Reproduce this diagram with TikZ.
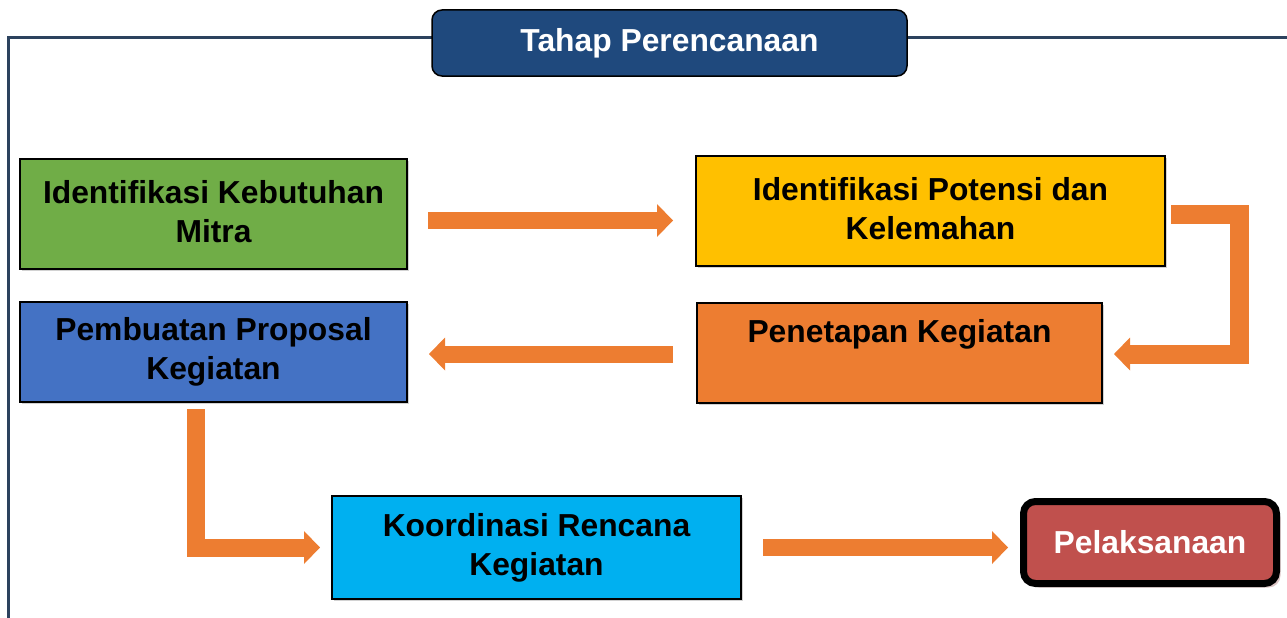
\documentclass[tikz,border=0pt]{standalone}
\usepackage{fontspec}
\setmainfont{Liberation Sans}
\usetikzlibrary{arrows.meta,shadows}
\definecolor{frameblue}{RGB}{44,66,94}
\definecolor{titleblue}{RGB}{31,73,125}
\definecolor{cgreen}{RGB}{112,173,71}
\definecolor{cyellow}{RGB}{255,192,0}
\definecolor{cblue}{RGB}{68,114,196}
\definecolor{corange}{RGB}{237,125,49}
\definecolor{ccyan}{RGB}{0,176,240}
\definecolor{cred}{RGB}{192,80,77}
\definecolor{arroworange}{RGB}{237,125,49}
\definecolor{redshadow}{RGB}{185,140,140}
\begin{document}
\begin{tikzpicture}[x=1pt,y=-1pt,
  box/.style={draw=black,line width=1.5pt,rectangle,inner sep=0pt,align=center,
    font=\fontsize{31.8}{39}\selectfont\bfseries,
    drop shadow={shadow xshift=1.5pt,shadow yshift=-1.5pt,fill=black!35}},
  blockarrow/.style={draw=arroworange,line width=#1,line join=miter,
    -{Triangle[width=33pt,length=16pt,line width=0pt]}},
  blockarrow/.default=17pt]
\useasboundingbox (0,0) rectangle (1287,618);
% frame
\coordinate (fbl) at (8,618);
\coordinate (ftl) at (8,38);
\coordinate (ftr) at (1287,38);
\draw[frameblue,line width=3pt] (fbl) -- (ftl) -- (ftr);
% title
\node[draw=black,line width=1.5pt,fill=titleblue,rounded corners=10pt,
  minimum width=475pt,minimum height=66pt,inner sep=0pt,text=white,
  font=\fontsize{31.8}{39}\selectfont\bfseries] (title) at (669.5,43) {Tahap Perencanaan};
% boxes
\node[box,fill=cgreen,minimum width=387pt,minimum height=110pt] (green) at (213.5,214)
  {Identifikasi Kebutuhan\\Mitra\rule[-6pt]{0pt}{0pt}};
\node[box,fill=cyellow,minimum width=469pt,minimum height=110pt] (yellow) at (930.5,211)
  {Identifikasi Potensi dan\\Kelemahan\rule[-6pt]{0pt}{0pt}};
\node[box,fill=cblue,minimum width=387pt,minimum height=100pt] (blue) at (213.5,352)
  {Pembuatan Proposal\\Kegiatan\rule[-6pt]{0pt}{0pt}};
\node[box,fill=corange,minimum width=405pt,minimum height=100pt] (orange) at (899.5,353)
  {Penetapan Kegiatan\\\mbox{}\rule[-6pt]{0pt}{0pt}};
\node[box,fill=ccyan,minimum width=409pt,minimum height=103pt] (cyan) at (536.5,547.5)
  {Koordinasi Rencana\\Kegiatan\rule[-6pt]{0pt}{0pt}};
\node[draw=black,line width=7pt,fill=cred,rounded corners=12pt,
  minimum width=253pt,minimum height=82pt,inner sep=0pt,text=white,
  font=\fontsize{31.8}{39}\selectfont\bfseries,
  drop shadow={shadow xshift=4pt,shadow yshift=-4pt,fill=redshadow}] (pel) at (1150,542.5) {Pelaksanaan};
% arrow endpoints
\coordinate (a1s) at (428,220.5);
\coordinate (a1e) at (673,220.5);
\coordinate (a2s) at (1171,214);
\coordinate (a2c1) at (1239,214);
\coordinate (a2c2) at (1239,354);
\coordinate (a2e) at (1114,354);
\coordinate (a3s) at (673,354);
\coordinate (a3e) at (429,354);
\coordinate (a4s) at (196,409);
\coordinate (a4c) at (196,547.5);
\coordinate (a4e) at (320,547.5);
\coordinate (a5s) at (763,547.5);
\coordinate (a5e) at (1008,547.5);
% arrows
\draw[blockarrow] (a1s) -- (a1e);
\draw[blockarrow=19pt] (a2s) -- (a2c1) -- (a2c2) -- (a2e);
\draw[blockarrow] (a3s) -- (a3e);
\draw[blockarrow=18pt] (a4s) -- (a4c) -- (a4e);
\draw[blockarrow] (a5s) -- (a5e);
\end{tikzpicture}
\end{document}
